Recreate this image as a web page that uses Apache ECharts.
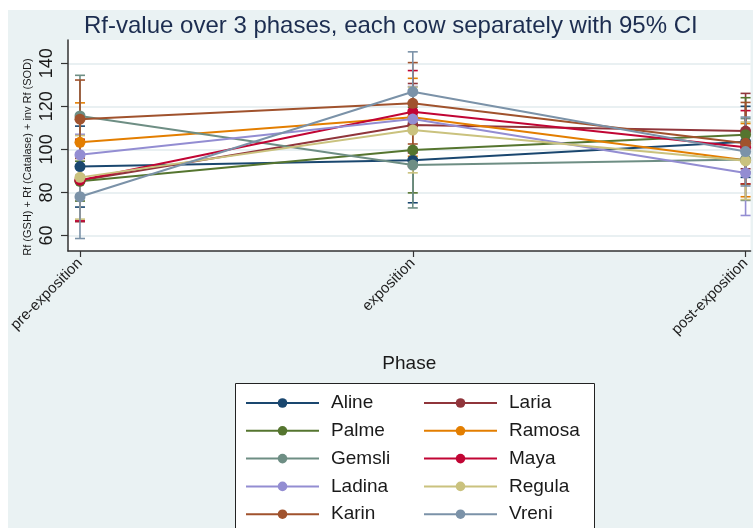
<!DOCTYPE html>
<html>
<head>
<meta charset="utf-8">
<script src="https://cdn.jsdelivr.net/npm/echarts@6/dist/echarts.min.js"></script>
<style>
  html, body { margin: 0; padding: 0; background: #fff; }
  #chart { width: 753px; height: 528px; }
</style>
</head>
<body>
<div id="chart"></div>
<script>
// phases on the x axis
const phases = ['pre-exposition', 'exposition', 'post-exposition']
const cows = ['Aline', 'Laria', 'Palme', 'Ramosa', 'Gemsli', 'Maya', 'Ladina', 'Regula', 'Karin', 'Vreni']
const colors = ['#1a476f', '#90353b', '#55752f', '#e37e00', '#6e8e84', '#c10534', '#938dd2', '#cac27e', '#a0522d', '#7b92a8']

// means per phase, same order as cows
const meanPre  = [92.0, 85.5, 85.2, 103.3, 115.5, 85.7, 97.5, 87.0, 114.0, 78.0]
const meanExp  = [95.0, 111.3, 99.7, 114.9, 92.7, 117.5, 114.1, 109.0, 121.4, 126.8]
const meanPost = [103.5, 108.5, 106.8, 95.0, 95.3, 101.0, 89.0, 94.7, 102.8, 99.0]
// 95% CI bounds
const loPre  = [73.2, 66.4, 76.0, 85.0, 96.6, 66.8, 88.0, 67.6, 95.8, 58.6]
const hiPre  = [110.8, 104.6, 94.5, 121.6, 134.4, 104.6, 107.0, 106.4, 132.2, 97.4]
const loExp  = [75.2, 92.0, 79.8, 96.8, 72.8, 98.4, 99.0, 89.1, 102.5, 108.3]
const hiExp  = [114.8, 130.6, 119.6, 133.0, 112.6, 136.6, 129.2, 128.9, 140.3, 145.3]
const loPost = [87.0, 91.0, 89.5, 78.0, 76.3, 84.0, 69.3, 76.7, 83.8, 83.0]
const hiPost = [120.0, 126.0, 124.0, 112.0, 114.3, 118.0, 108.7, 112.7, 121.8, 115.0]

const yTicks = [60, 80, 100, 120, 140]
const legendLeft = ['Aline', 'Palme', 'Gemsli', 'Ladina', 'Karin']
const legendRight = ['Laria', 'Ramosa', 'Maya', 'Regula', 'Vreni']

const means = [meanPre, meanExp, meanPost]
const los = [loPre, loExp, loPost]
const his = [hiPre, hiExp, hiPost]

const chart = echarts.init(document.getElementById('chart'))

const capSeries = cows.map((name, c) => ({
  name: name + ' CI',
  type: 'custom',
  z: 2,
  clip: false,
  itemStyle: { color: colors[c] },
  data: phases.map((p, i) => [i, los[i][c], his[i][c]]),
  renderItem (params, api) {
    const x = api.value(0)
    const a = api.coord([x, api.value(1)])
    const b = api.coord([x, api.value(2)])
    const w = 5
    const style = { stroke: colors[c], lineWidth: 1.6 }
    return {
      type: 'group',
      children: [
        { type: 'line', shape: { x1: a[0], y1: a[1], x2: b[0], y2: b[1] }, style },
        { type: 'line', shape: { x1: a[0] - w, y1: a[1], x2: a[0] + w, y2: a[1] }, style },
        { type: 'line', shape: { x1: b[0] - w, y1: b[1], x2: b[0] + w, y2: b[1] }, style }
      ]
    }
  }
}))

const lineSeries = cows.map((name, c) => ({
  name,
  type: 'line',
  z: 3,
  clip: false,
  symbol: 'circle',
  symbolSize: 11,
  itemStyle: { color: colors[c] },
  lineStyle: { width: 2, color: colors[c] },
  data: phases.map((p, i) => [i, means[i][c]])
}))

const legendBase = {
  orient: 'vertical',
  top: 393.5,
  padding: 0,
  itemWidth: 73,
  itemHeight: 12,
  itemGap: 8.8,
  textStyle: { fontSize: 19, color: '#1a1a1a', padding: [0, 0, 0, 7] }
}

chart.setOption({
  backgroundColor: '#fff',
  animation: false,
  textStyle: { fontFamily: 'Liberation Sans' },
  title: {
    text: 'Rf-value over 3 phases, each cow separately with 95% CI',
    left: 79,
    top: 9,
    textStyle: { fontSize: 24, fontWeight: 'normal', color: '#1c2d50' }
  },
  graphic: [
    { type: 'rect', z: -10, shape: { x: 8, y: 10, width: 760, height: 530 }, style: { fill: '#eaf2f3' } },
    { type: 'rect', z: 1, shape: { x: 235.5, y: 383.5, width: 359, height: 160 }, style: { fill: '#fff', stroke: '#222', lineWidth: 1 } },
    {
      type: 'text', x: 28, y: 157, rotation: Math.PI / 2, z: 5,
      style: { text: 'Rf (GSH) + Rf (Catalase) + inv Rf (SOD)', fontSize: 11, fill: '#1a1a1a', align: 'center', verticalAlign: 'middle', fontFamily: 'Liberation Sans' }
    }
  ],
  legend: [
    Object.assign({}, legendBase, { left: 245, data: legendLeft }),
    Object.assign({}, legendBase, { left: 423, data: legendRight })
  ],
  grid: {
    left: 68,
    top: 40,
    right: 0,
    bottom: 277,
    show: true,
    backgroundColor: '#fff',
    borderWidth: 0
  },
  xAxis: {
    type: 'value',
    min: -0.036,
    max: 2.015,
    name: 'Phase',
    nameLocation: 'middle',
    nameGap: 103,
    nameTextStyle: { fontSize: 19, color: '#1a1a1a' },
    axisLine: { onZero: false, lineStyle: { color: '#333', width: 1.5 } },
    axisTick: { length: 6, customValues: [0, 1, 2], lineStyle: { color: '#333', width: 1.2 } },
    axisLabel: {
      customValues: [0, 1, 2],
      rotate: 45,
      margin: 10,
      fontSize: 15,
      color: '#222',
      formatter: v => phases[Math.round(v)]
    },
    splitLine: { show: false }
  },
  yAxis: {
    type: 'value',
    min: 52.8,
    max: 150.8,
    axisLine: { show: true, onZero: false, lineStyle: { color: '#333', width: 1.5 } },
    axisTick: { show: true, length: 7, customValues: yTicks, lineStyle: { color: '#333', width: 1.2 } },
    axisLabel: { customValues: yTicks, rotate: 90, margin: 12, fontSize: 18, color: '#1a1a1a' },
    splitLine: { show: true, customValues: yTicks, lineStyle: { color: '#e2ebee', width: 1.5 } }
  },
  series: capSeries.concat(lineSeries)
})
</script>
</body>
</html>
